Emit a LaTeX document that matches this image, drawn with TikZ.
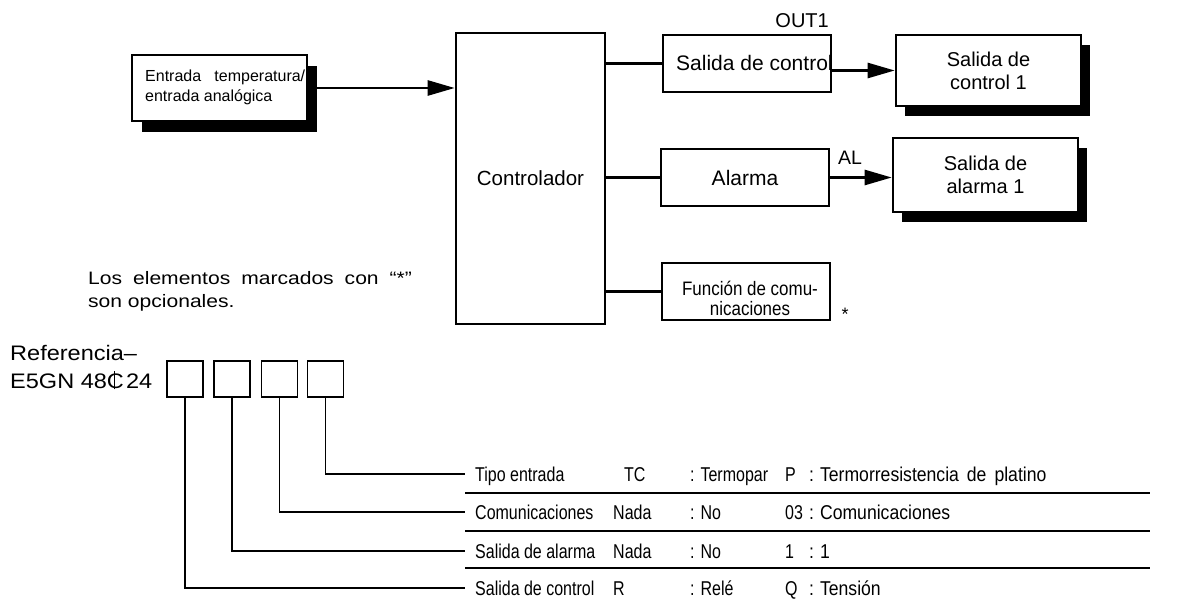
\documentclass[tikz,border=0pt]{standalone}
\usepackage{fontspec}
\setmainfont{Liberation Sans}
\newfontfamily\narrowfont[FakeStretch=0.8]{Liberation Sans}
\newfontfamily\semifont[FakeStretch=0.88]{Liberation Sans}
\newfontfamily\condfont[FakeStretch=0.87]{Liberation Sans}
\newfontfamily\widefont[FakeStretch=1.17]{Liberation Sans}
\newfontfamily\reffont[FakeStretch=1.12]{Liberation Sans}
\usetikzlibrary{arrows.meta,shadows}

\newcommand\fs[1]{\fontsize{#1}{#1}\selectfont}
% C with a vertical bar through it
\newcommand\cbar{\makebox[0pt][l]{C}\makebox[0.722em]{\rule[-0.07em]{0.07em}{0.86em}}}
\newcommand\wgap{\hspace{11pt}}

\begin{document}
\begin{tikzpicture}[x=1pt,y=-1pt,
  blk/.style={draw, line width=2.6pt, fill=white, inner sep=0},
  shbox/.style={blk, drop shadow={shadow xshift=9pt, shadow yshift=-10pt, fill=black, opacity=1}},
  conn/.style={line width=2.6pt},
  arr/.style={conn, -{Triangle[length=27pt,width=15pt]}},
  thin/.style={line width=1.2pt},
  sq/.style={draw, line width=1.2pt, minimum width=36pt, minimum height=36pt, inner sep=0},
  lbl/.style={inner sep=0, anchor=base west},
  tab/.style={font=\narrowfont\fs{20}, inner sep=0, anchor=west, text height=14.3pt, text depth=0pt},
  tabw/.style={tab, font=\semifont\fs{20}},
]
\useasboundingbox (0,0) rectangle (1197,604);

% ---------- block diagram ----------
\node[blk, line width=2pt, minimum width=175pt, minimum height=66pt,
      drop shadow={shadow xshift=10pt, shadow yshift=-11pt, fill=black, opacity=1}]
      (inp) at (219.5,88) {};
\node[inner sep=0, anchor=west, align=left, font=\fs{16}] (inptxt) at (145,87)
      {\makebox[160pt][s]{Entrada temperatura/}\\[4pt]entrada analógica};

\node[blk, minimum width=149pt, minimum height=291pt, font=\fs{20.5}] (ctrl) at (530.5,178.5) {Controlador};

\node[blk, minimum width=168pt, minimum height=57pt] (sdc) at (747,63.5) {};
\node[lbl, font=\fs{21}] (sdctxt) at (676,71) {Salida de control};
\node[inner sep=0, anchor=base east, font=\fs{20}] (out1lbl) at (829,28) {OUT1};

\node[blk, minimum width=168pt, minimum height=57pt, font=\fs{21}] (alm) at (745,177.5) {Alarma};
\node[lbl, font=\fs{19.5}] (allbl) at (838,165) {AL};

\node[blk, minimum width=168pt, minimum height=57pt] (fun) at (746,291.5) {};
\node[inner sep=0, align=center, font=\condfont\fontsize{19.5}{20}\selectfont] (funtxt) at (750,298)
      {Función de comu-\\nicaciones};
\node[inner sep=0, font=\fs{18}] (ast) at (845,314) {*};

\node[shbox, minimum width=185pt, minimum height=71pt, align=center,
      font=\fontsize{20}{23}\selectfont] (out1) at (988.5,70.5) {Salida de\\control 1};
\node[shbox, minimum width=185pt, minimum height=74pt, align=center,
      font=\fontsize{20}{23}\selectfont] (out2) at (985.5,175) {Salida de\\alarma 1};

% connectors
\draw[arr] (inp.east) -- (inp.east -| ctrl.west);
\draw[conn] (ctrl.east |- sdc.west) -- (sdc.west);
\draw[conn] (ctrl.east |- alm.west) -- (alm.west);
\draw[conn] (ctrl.east |- fun.west) -- (fun.west);
\draw[arr] (sdc.east |- out1.west) -- (out1.west);
\draw[arr] (alm.east) -- (alm.east -| out2.west);

% ---------- ordering code ----------
\node[lbl, align=left, font=\widefont\fontsize{18}{23}\selectfont] (note) at (88,307)
      {Los\wgap elementos\wgap marcados\wgap con\wgap “*”\\son opcionales.};

\node[lbl, align=left, font=\reffont\fontsize{21}{28}\selectfont] (ref) at (10,388)
      {Referencia–\\E5GN 48\cbar\hspace{4pt}24};

\node[sq] (s1) at (185,379) {};
\node[sq] (s2) at (232,379) {};
\node[sq] (s3) at (279.5,379) {};
\node[sq] (s4) at (325.5,379) {};

% table rows
\node[tab] (r1) at (475,474) {Tipo entrada};
\node[tab] (r2) at (475,512) {Comunicaciones};
\node[tab] (r3) at (475,551) {Salida de alarma};
\node[tab] (r4) at (475,588) {Salida de control};

\coordinate (e1) at (465,474);
\coordinate (e2) at (465,512);
\coordinate (e3) at (465,551);
\coordinate (e4) at (465,588);

\draw[thin] (s4.south) |- (e1);
\draw[thin] (s3.south) |- (e2);
\draw[thin] (s2.south) |- (e3);
\draw[thin] (s1.south) |- (e4);

\foreach \y in {493,531,568} \draw[thin] (465,\y) -- (1150,\y);

\node[tab] (c12) at (624,474) {TC};
\node[tab] (c13) at (690,474) {: Termopar};
\node[tab] (c14) at (785,474) {P};
\node[tabw] (c15) at (809,474) {:\hspace{6pt}Termorresistencia\hspace{8pt}de\hspace{8pt}platino};

\node[tab] (c22) at (613,512) {Nada};
\node[tab] (c23) at (690,512) {: No};
\node[tab] (c24) at (785,512) {03};
\node[tabw] (c25) at (809,512) {:\hspace{6pt}Comunicaciones};

\node[tab] (c32) at (613,551) {Nada};
\node[tab] (c33) at (690,551) {: No};
\node[tab] (c34) at (785,551) {1};
\node[tabw] (c35) at (809,551) {:\hspace{6pt}1};

\node[tab] (c42) at (613,588) {R};
\node[tab] (c43) at (690,588) {: Relé};
\node[tab] (c44) at (785,588) {Q};
\node[tabw] (c45) at (809,588) {:\hspace{6pt}Tensión};
\end{tikzpicture}
\end{document}
